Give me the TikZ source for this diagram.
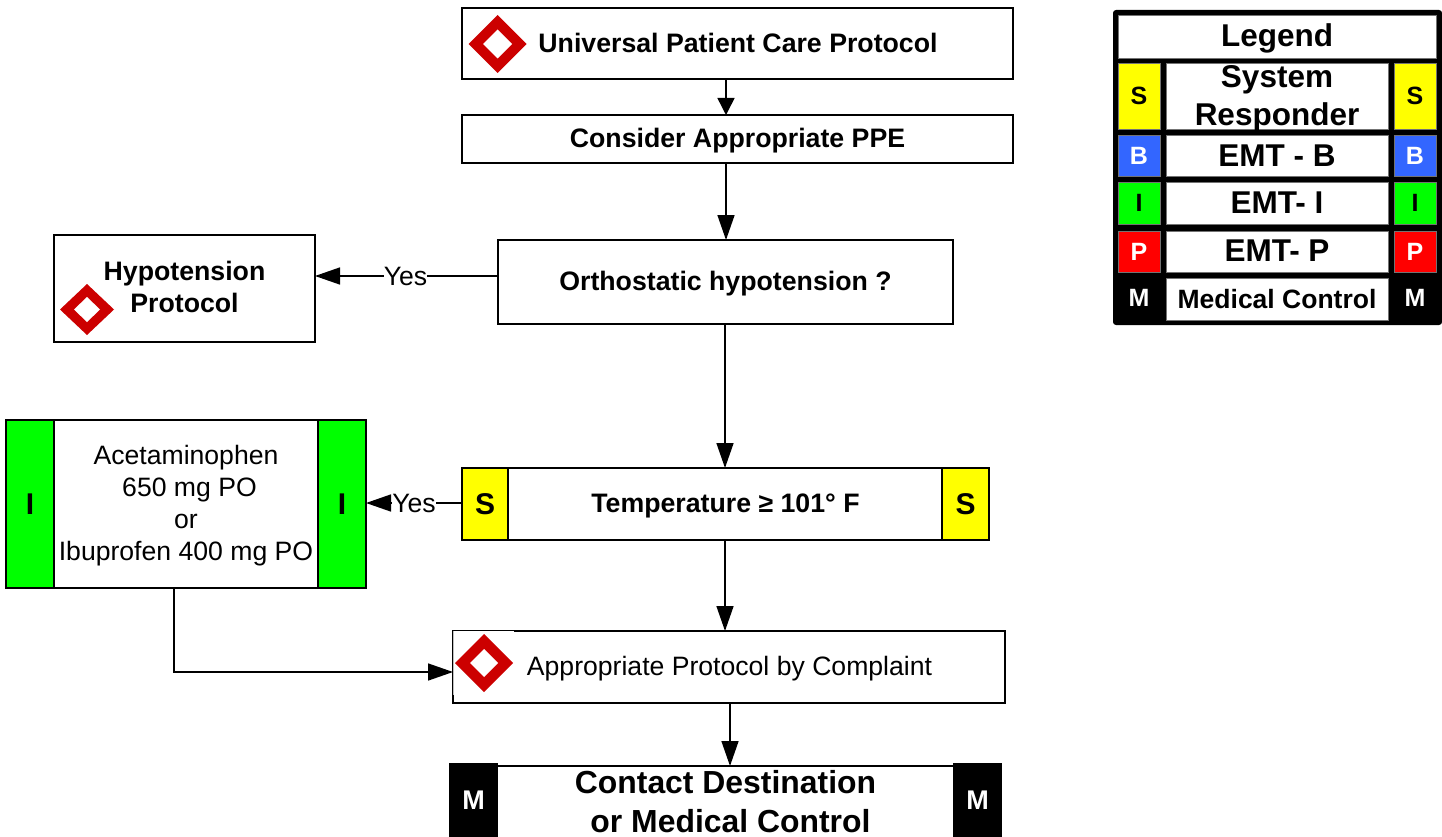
\documentclass[tikz,border=0pt]{standalone}
\usepackage{fontspec}
\setmainfont{Liberation Sans}
\usetikzlibrary{arrows.meta,shapes.geometric}
\definecolor{sysyellow}{RGB}{255,255,0}
\definecolor{emtblue}{RGB}{51,102,255}
\definecolor{emtgreen}{RGB}{0,255,0}
\definecolor{emtred}{RGB}{255,0,0}
\definecolor{protored}{RGB}{204,0,0}
\newcommand{\fs}[1]{\fontsize{#1}{#1}\selectfont}
\tikzset{
  x=1pt,y=-1pt,
  base/.style={rectangle,inner sep=0pt,outer sep=0pt,anchor=center,align=center},
  flowbox/.style={base,draw=black,fill=white,line width=1.5pt},
  headline/.style={base,font=\bfseries\fontsize{26.7}{32}\selectfont},
  plainline/.style={base,font=\fontsize{26.6}{32}\selectfont},
  tagbox/.style={base,draw=black,line width=1.5pt,font=\bfseries\fs{30}},
  cell/.style={base,draw=black!55,line width=0.8pt,fill=white,font=\bfseries\fontsize{31.5}{38}\selectfont},
  celltext/.style={base,font=\bfseries\fontsize{31.5}{38}\selectfont},
  tag/.style={base,draw=black!55,line width=0.8pt,font=\bfseries\fs{25}},
  conn/.style={line width=1.5pt,draw=black},
  small/.style={conn,-{Triangle[length=17pt,width=17pt]}},
  big/.style={conn,-{Triangle[length=25pt,width=17pt]}},
  yeslabel/.style={base,fill=white,font=\fs{26.6},inner ysep=1pt},
  outerdia/.style={diamond,draw=none,fill=protored,inner sep=0pt,outer sep=0pt,aspect=1},
  innerdia/.style={diamond,draw=none,fill=white,inner sep=0pt,outer sep=0pt,aspect=1},
}
\begin{document}
\begin{tikzpicture}
\useasboundingbox (0,0) rectangle (1442,837);

% main flow boxes
\node[flowbox,minimum width=551pt,minimum height=71pt] (ups) at (737.5,43.5) {};
\node[headline] (upstext) at (738,43) {Universal Patient Care Protocol};
\node[flowbox,minimum width=551pt,minimum height=48pt] (ppe) at (737.5,139) {};
\node[headline] (ppetext) at (737.5,141) {Consider Appropriate PPE};
\node[flowbox,minimum width=455pt,minimum height=84pt] (ortho) at (725.5,282) {};
\node[headline] (orthotext) at (725.5,284) {Orthostatic hypotension ?};
\node[flowbox,minimum width=261pt,minimum height=107pt] (hypo) at (184.5,288.5) {};
\node[headline] (hypotext) at (184.5,286.5) {Hypotension\\Protocol};

% temperature
\node[flowbox,minimum width=527pt,minimum height=72pt] (temp) at (725.5,504) {};
\node[headline] (temptext) at (725.5,506) {Temperature ≥ 101° F};
\node[tagbox,fill=sysyellow,minimum width=46pt,minimum height=72pt] (tempsl) at (485,504) {S};
\node[tagbox,fill=sysyellow,minimum width=47pt,minimum height=72pt] (tempsr) at (965.5,504) {S};

% medication
\node[flowbox,minimum width=360pt,minimum height=168pt] (med) at (186,504) {};
\node[plainline] (medtext) at (186,506) {Acetaminophen\\\hspace*{7pt}650 mg PO\\or\\Ibuprofen 400 mg PO};
\node[tagbox,fill=emtgreen,minimum width=48pt,minimum height=168pt] (medil) at (30,504) {I};
\node[tagbox,fill=emtgreen,minimum width=48pt,minimum height=168pt] (medir) at (342,504) {I};

% appropriate protocol
\node[flowbox,minimum width=552pt,minimum height=72pt] (appr) at (729,667) {};
\node[base,fill=white,minimum width=61pt,minimum height=64pt] (apprmask) at (483.5,662.5) {};
\node[plainline] (apprtext) at (729.5,668.5) {Appropriate Protocol by Complaint};
\draw[black!25,line width=0.8pt] (apprmask.north west) -- (apprmask.south west);

% contact
\node[base,fill=white,font=\bfseries\fontsize{31.9}{39}\selectfont,minimum width=455pt,minimum height=71pt] (contact) at (725.5,801.5) {Contact Destination\\\hspace*{10pt}or Medical Control};
\draw[conn] (contact.north west) -- (contact.north east);
\node[base,fill=black,text=white,font=\bfseries\fs{27},minimum width=49pt,minimum height=74pt] (contml) at (473.5,800) {M};
\node[base,fill=black,text=white,font=\bfseries\fs{27},minimum width=49pt,minimum height=74pt] (contmr) at (977.5,800) {M};

% protocol diamonds
\node[outerdia,minimum width=58pt,minimum height=58pt] (d1) at (497.5,44) {};
\node[innerdia,minimum width=29pt,minimum height=29pt] (d1i) at (497.5,44) {};
\node[outerdia,minimum width=54pt,minimum height=51pt] (d2) at (87,309.5) {};
\node[innerdia,minimum width=26pt,minimum height=25pt] (d2i) at (87,309.5) {};
\node[outerdia,minimum width=58pt,minimum height=58pt] (d3) at (484,663) {};
\node[innerdia,minimum width=28pt,minimum height=28pt] (d3i) at (484,663) {};

% connector guides
\coordinate (xa) at (726,0);
\coordinate (xb) at (725,0);
\coordinate (xc) at (730,0);
\coordinate (ya) at (0,276);
\coordinate (yb) at (0,503);
\coordinate (yc) at (0,672);
\coordinate (xd) at (174,0);

\draw[small] (ups.south -| xa) -- (ppe.north -| xa);
\draw[big] (ppe.south -| xa) -- (ortho.north -| xa);
\draw[big] (ortho.south -| xb) -- (temp.north -| xb);
\draw[big] (temp.south -| xb) -- (appr.north -| xb);
\draw[big] (appr.south -| xc) -- (contact.north -| xc);
\draw[big] (ortho.west |- ya) -- (hypo.east |- ya);
\draw[big] (tempsl.west |- yb) -- (medir.east |- yb);
\draw[big] (med.south -| xd) -- (xd |- yc) -- (appr.west |- yc);
\node[yeslabel] (yes1) at (405.5,276) {Yes};
\node[yeslabel] (yes2) at (414,503) {Yes};

% legend
\node[base,fill=black,rounded corners=3pt,minimum width=329pt,minimum height=315pt] (legend) at (1277.5,167.5) {};
\node[cell,minimum width=318pt,minimum height=43pt] (lt) at (1277,36.5) {};
\node[celltext] (lttext) at (1277,38.5) {Legend};

\node[tag,fill=sysyellow,minimum width=42pt,minimum height=66pt] (s1) at (1139,96) {S};
\node[cell,minimum width=222pt,minimum height=66pt] (lsys) at (1277,96) {};
\node[celltext] (lsystext) at (1277,98.5) {System\\Responder};
\node[tag,fill=sysyellow,minimum width=42pt,minimum height=66pt] (s2) at (1415,96) {S};

\node[tag,fill=emtblue,text=white,minimum width=42pt,minimum height=41pt] (b1) at (1139,155.5) {B};
\node[cell,minimum width=222pt,minimum height=41pt] (lb) at (1277,155.5) {EMT - B};
\node[tag,fill=emtblue,text=white,minimum width=42pt,minimum height=41pt] (b2) at (1415,155.5) {B};

\node[tag,fill=emtgreen,minimum width=42pt,minimum height=42pt] (i1) at (1139,203) {I};
\node[cell,minimum width=222pt,minimum height=42pt] (li) at (1277,203) {EMT- I};
\node[tag,fill=emtgreen,minimum width=42pt,minimum height=42pt] (i2) at (1415,203) {I};

\node[tag,fill=emtred,text=white,minimum width=42pt,minimum height=41pt] (p1) at (1139,251.5) {P};
\node[cell,minimum width=222pt,minimum height=41pt] (lp) at (1277,251.5) {};
\node[celltext] (lptext) at (1277,250.5) {EMT- P};
\node[tag,fill=emtred,text=white,minimum width=42pt,minimum height=41pt] (p2) at (1415,251.5) {P};

\node[base,text=white,font=\bfseries\fs{25}] (m1) at (1139,298) {M};
\node[cell,font=\bfseries\fs{26.5},minimum width=222pt,minimum height=42pt] (lm) at (1277,299) {Medical Control};
\node[base,text=white,font=\bfseries\fs{25}] (m2) at (1415,298) {M};
\end{tikzpicture}
\end{document}
